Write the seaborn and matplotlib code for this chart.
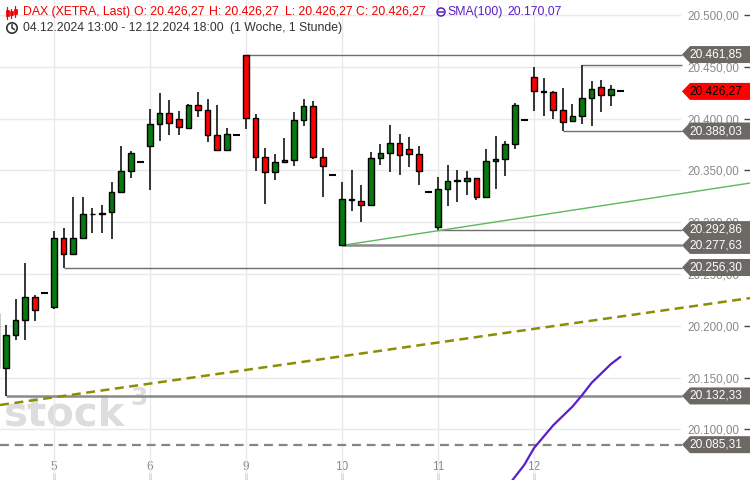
import matplotlib
matplotlib.use("Agg")
import matplotlib.pyplot as plt
import seaborn as sns
import numpy as np
import pandas as pd
from matplotlib.patches import Polygon, Circle, Rectangle
from matplotlib.lines import Line2D
from matplotlib.transforms import IdentityTransform

# ---------------- data ----------------
# hourly candles, index 0 = 05.12. 09:00, 10 slots per trading day
candle_idx = list(range(-6, 60))
opens = [20212.4, 20159.3, 20191.1, 20205.3, 20227.8, 20231.4,
         20217.9, 20284.5, 20269.0, 20284.5, 20307.6, 20308.2, 20309.6, 20328.9, 20349.1, 20357.8,
         20373.8, 20394.5, 20405.1, 20399.3, 20390.6, 20412.8, 20408.0, 20383.9, 20369.4, 20383.9,
         20461.85, 20400.3, 20362.6, 20348.2, 20357.8, 20359.7, 20398.4, 20411.9, 20362.6, 20345.3,
         20277.63, 20321.0, 20320.8, 20316.3, 20361.7, 20366.5, 20376.2, 20370.4, 20365.5, 20328.9,
         20295.8, 20331.8, 20339.5, 20339.5, 20342.4, 20324.0, 20358.8, 20360.7, 20375.2, 20398.4,
         20439.9, 20426.0, 20425.4, 20408.0, 20397.4, 20402.2, 20419.6, 20430.2, 20422.5, 20426.27]
highs = [20220.1, 20200.8, 20225.9, 20260.3, 20229.7, 20231.4,
         20291.5, 20294.4, 20324.0, 20324.0, 20313.4, 20316.6, 20338.5, 20373.6, 20368.7, 20357.8,
         20409.3, 20424.7, 20418.0, 20407.3, 20414.1, 20425.7, 20418.9, 20412.8, 20390.6, 20383.9,
         20461.85, 20404.4, 20371.3, 20365.5, 20381.0, 20406.1, 20418.6, 20416.7, 20371.3, 20345.3,
         20338.5, 20350.4, 20335.6, 20367.5, 20375.2, 20393.5, 20384.8, 20381.9, 20373.3, 20328.9,
         20343.3, 20354.9, 20350.1, 20349.1, 20342.4, 20370.4, 20382.9, 20378.1, 20414.8, 20398.4,
         20449.5, 20438.9, 20426.6, 20429.2, 20413.8, 20451.4, 20436.0, 20437.3, 20432.1, 20426.27]
lows = [20157.3, 20132.33, 20186.3, 20186.3, 20204.9, 20231.4,
        20216.5, 20256.30, 20269.0, 20284.5, 20289.9, 20289.3, 20283.8, 20328.9, 20343.0, 20357.8,
        20331.1, 20378.7, 20384.5, 20384.5, 20390.6, 20401.5, 20377.1, 20369.4, 20369.4, 20383.9,
        20389.7, 20349.7, 20317.9, 20341.0, 20357.8, 20354.5, 20393.1, 20360.7, 20324.0, 20345.3,
        20277.63, 20311.1, 20300.5, 20316.3, 20355.5, 20348.2, 20345.8, 20353.6, 20336.2, 20328.9,
        20292.86, 20315.9, 20319.8, 20326.5, 20321.7, 20324.0, 20332.3, 20344.3, 20370.4, 20398.4,
        20406.9, 20402.8, 20399.3, 20388.03, 20397.4, 20395.1, 20393.1, 20406.1, 20411.9, 20426.27]
closes = [20159.3, 20191.1, 20205.3, 20227.8, 20215.5, 20231.4,
          20284.5, 20269.0, 20284.5, 20307.6, 20308.2, 20308.0, 20328.9, 20349.1, 20366.5, 20357.8,
          20394.5, 20405.1, 20395.5, 20391.6, 20412.8, 20408.0, 20383.9, 20369.4, 20384.8, 20383.9,
          20400.3, 20362.6, 20348.7, 20357.8, 20359.7, 20398.4, 20411.9, 20362.6, 20354.0, 20345.3,
          20322.1, 20322.1, 20316.3, 20361.7, 20366.5, 20376.2, 20364.6, 20365.5, 20349.1, 20328.9,
          20331.8, 20339.5, 20340.4, 20342.4, 20324.0, 20358.8, 20360.7, 20375.2, 20412.8, 20398.4,
          20426.4, 20426.4, 20408.0, 20396.4, 20402.2, 20419.6, 20428.3, 20422.5, 20428.3, 20426.27]

day_ticks = [0, 10, 20, 30, 40, 50]
day_labels = ["5", "6", "9", "10", "11", "12"]

price_ticks = [20100, 20150, 20200, 20250, 20300, 20350, 20400, 20450, 20500]

# SMA(100)
sma_idx = [46, 47, 48, 49, 50, 51, 52, 53, 54, 55, 56, 57, 58, 59]
sma_vals = [20030, 20042, 20054, 20066, 20082, 20093, 20104, 20113, 20122, 20133, 20145, 20154, 20163, 20170.07]

# horizontal support / resistance levels and the candle where each starts
level_vals = [20461.85, 20451.4, 20388.03, 20292.86, 20277.63, 20256.30, 20132.33]
level_start = [20, 55, 53, 40, 30, 1, -5]
level_width = [1.0, 1.0, 1.0, 1.0, 1.8, 1.0, 1.8]
dashed_level = 20085.31

tag_vals = [20461.85, 20388.03, 20292.86, 20277.63, 20256.30, 20132.33, 20085.31]
last_price = 20426.27

# trend lines (index, price)
green_x = [30, 72.5]
green_y = [20277.63, 20337.8]
olive_x = [-5.625, 72.5]
olive_y = [20123.6, 20226.8]

# ---------------- helpers ----------------
def de(v):
    s = f"{v:,.2f}"
    return s.replace(",", "X").replace(".", ",").replace("X", ".")

W, H = 750, 480
XLIM = (-5.625, 72.5)
YLIM = (20051.2, 20514.5)
RIGHT_END = 682 / W  # axes fraction where tags start

sns.set_theme(style="white")
plt.rcParams['font.family'] = ['Liberation Sans', 'DejaVu Sans']

fig = plt.figure(figsize=(7.5, 4.8), dpi=100)
ax = fig.add_axes([0, 0, 1, 1])
ax.set_xlim(*XLIM)
ax.set_ylim(*YLIM)
for s in ax.spines.values():
    s.set_visible(False)

# grid
for p in price_ticks:
    ax.axhline(p, xmax=680 / W, color="#e9e9e9", lw=1.0, zorder=0.6)
for d in day_ticks:
    ax.axvline(d, color="#e9e9e9", lw=1.0, zorder=0.6)

# watermark
ax.text(4 / W, 1 - 425 / H, "stock", transform=ax.transAxes, fontsize=29,
        color="#dddddd", fontweight="bold", va="baseline", ha="left", zorder=0.4,
        family=["DejaVu Sans"])
ax.text(130 / W, 1 - 405 / H, "3", transform=ax.transAxes, fontsize=18,
        color="#dddddd", fontweight="bold", va="baseline", ha="left", zorder=0.4,
        family=["DejaVu Sans"])

# level lines
for v, st, lw in zip(level_vals, level_start, level_width):
    col = "#8a8a8a" if lw > 1.2 else "#6e6e6e"
    ax.hlines(v, st, XLIM[0] + (XLIM[1] - XLIM[0]) * RIGHT_END, color=col, lw=lw, zorder=2)
ax.axhline(dashed_level, xmax=RIGHT_END, color="#858585", lw=1.6, dashes=(4, 2.6), zorder=2)

# trend lines
sns.lineplot(x=olive_x, y=olive_y, ax=ax, color="#8c8c05", lw=1.8, zorder=2.2)
ax.lines[-1].set_dashes((3.6, 2.2))
sns.lineplot(x=green_x, y=green_y, ax=ax, color="#5cb85c", lw=1.0, zorder=2.2)

# SMA
sns.lineplot(x=sma_idx, y=sma_vals, ax=ax, color="#5a1fc8", lw=1.6, zorder=2.3)

# candles
df = pd.DataFrame({"i": candle_idx, "o": opens, "h": highs, "l": lows, "c": closes})
flat = (df.h == df.l)
cand = df[~flat]
cols = np.where(cand.c >= cand.o, "#08780f", "#ff0000")
ax.vlines(cand.i, cand.l, cand.h, color="black", lw=1.1, zorder=3)
ax.bar(cand.i, (cand.c - cand.o).abs().clip(lower=0.6), bottom=np.minimum(cand.o, cand.c),
       width=0.58, color=cols, edgecolor="black", linewidth=1.0, zorder=4)
fl = df[flat]
ax.hlines(fl.c, fl.i - 0.36, fl.i + 0.36, color="black", lw=1.5, zorder=4)

# axes ticks
ax.set_xticks(day_ticks, day_labels)
ax.tick_params(axis="x", direction="in", length=5, width=1, color="#444444",
               pad=-14, labelsize=8.5, labelcolor="#888888", bottom=True)
ax.yaxis.tick_right()
ax.set_yticks(price_ticks, [de(p) for p in price_ticks])
ax.tick_params(axis="y", direction="in", length=4, width=1, color="#444444",
               pad=-7.5, labelsize=8.4, labelcolor="#8a8a8a", right=True, left=False)
plt.setp(ax.get_yticklabels(), ha="right")

# price tags
trans = ax.get_yaxis_transform()
hh = 8.2
tip = 682 / W
body = 690 / W
def tag(v, fc, tc):
    poly = Polygon([(tip, v), (body, v + hh), (1.0, v + hh), (1.0, v - hh), (body, v - hh)],
                   closed=True, transform=trans, facecolor=fc, edgecolor="none",
                   zorder=10, clip_on=False)
    ax.add_patch(poly)
    ax.text(716 / W, v, de(v), transform=trans, ha="center", va="center",
            color=tc, fontsize=8.6, zorder=11)
for v in tag_vals:
    tag(v, "#6c6864", "white")
tag(last_price, "#ff0000", "black")

# header
def ftext(xp, yp, s, color, **kw):
    fig.text(xp / W, 1 - yp / H, s, color=color, fontsize=8.8, va="center", ha="left", **kw)

ftext(23, 12, "DAX (XETRA, Last)", "#ee0000")
ftext(134, 12, f"O: {de(last_price)}", "#ee0000")
ftext(209, 12, f"H: {de(last_price)}", "#ee0000")
ftext(285, 12, f"L: {de(last_price)}", "#ee0000")
ftext(356, 12, f"C: {de(last_price)}", "#ee0000")
ftext(447, 12, "SMA(100)", "#5a1fc8")
ftext(507, 12, de(sma_vals[-1]), "#5a1fc8")
ftext(23, 28, "04.12.2024 13:00 - 12.12.2024 18:00", "#333333")
ftext(230, 28, "(1 Woche, 1 Stunde)", "#333333")

# icons (pixel coords)
idt = IdentityTransform()
for cx, y0, y1, b0, b1 in [(7, 7, 19, 10, 16), (11, 9, 18, 11, 15), (15, 6, 17, 9, 14)]:
    fig.add_artist(Line2D([cx, cx], [H - y0, H - y1], transform=idt, color="#ee0000", lw=0.9))
    fig.add_artist(Rectangle((cx - 1.5, H - b1), 3, b1 - b0, transform=idt,
                             facecolor="#ee0000", edgecolor="#ee0000", lw=0.5))
fig.add_artist(Circle((12, H - 28), 5.2, transform=idt, fill=False, edgecolor="#333333", lw=1.2))
fig.add_artist(Line2D([12, 12, 14.5], [H - 24.5, H - 28, H - 29.5], transform=idt,
                      color="#333333", lw=1.1))
fig.add_artist(Circle((441, H - 12), 4.0, transform=idt, fill=False, edgecolor="#5a1fc8", lw=1.1))
fig.add_artist(Line2D([438, 444], [H - 12, H - 12], transform=idt, color="#5a1fc8", lw=1.1))

ax.set_xlabel("")
ax.set_ylabel("")
fig.savefig("out.png", dpi=100)
